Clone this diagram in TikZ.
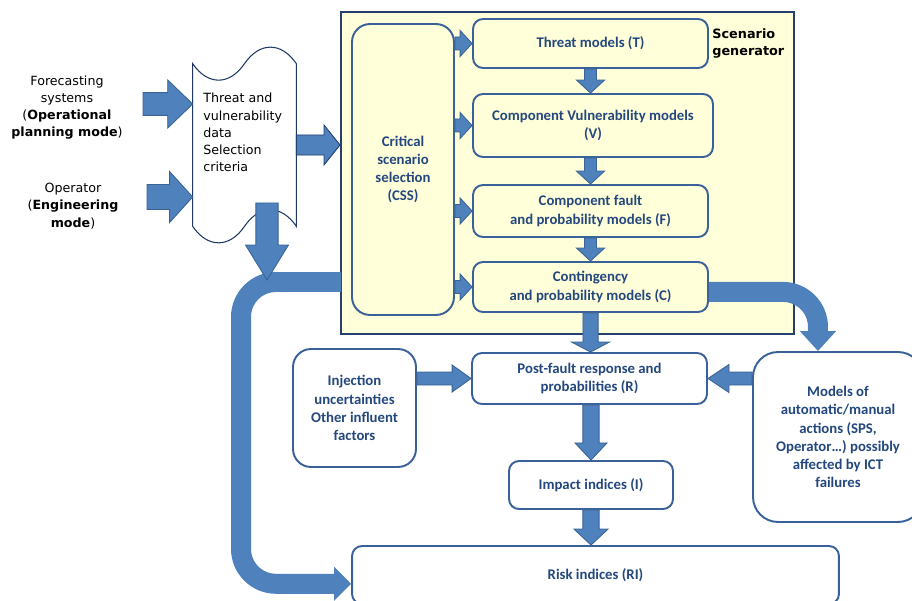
\documentclass[tikz,border=0pt]{standalone}
\usepackage{fontspec}
\setmainfont{DejaVu Sans}
\newfontfamily\boxfont{Carlito}
\usetikzlibrary{arrows.meta,calc}
\definecolor{genfill}{HTML}{FFFFD9}
\definecolor{genedge}{HTML}{24406E}
\definecolor{boxedge}{HTML}{3A6199}
\definecolor{boxtext}{HTML}{24487E}
\definecolor{arrfill}{HTML}{4F81BD}
\definecolor{arredge}{HTML}{3B6494}
\definecolor{tapeedge}{HTML}{1F3864}

\tikzset{
  modelbox/.style={draw=boxedge, line width=1.1pt, fill=genfill, rounded corners=0.2cm, inner sep=0pt,
    align=center, text=boxtext, font=\boxfont\bfseries\fontsize{8.4}{10.3}\selectfont},
  sidebox/.style={modelbox, fill=white},
  genbox/.style={draw=genedge, line width=1.2pt, fill=genfill, inner sep=0pt},
  tape/.style={draw=tapeedge, line width=0.6pt, fill=white},
  intext/.style={align=center, inner sep=0pt, font=\fontsize{7.2}{9.8}\selectfont},
  fatarr/.style={fill=arrfill, draw=arredge, line width=0.5pt},
  bigflow/.style={draw=arrfill, line width=0.4cm, rounded corners=0.7cm},
}

% block arrow: [style] from, to, shaft half width, head half width, head length
\newcommand\fatarrow[6][]{%
  \path[fatarr,#1] let \p1=(#2), \p2=(#3),
    \n1={atan2(\y2-\y1,\x2-\x1)}, \n2={veclen(\x2-\x1,\y2-\y1)-#6} in
    ($(\p1)+(\n1+90:#4)$) -- ($(\p1)+(\n1:\n2)+(\n1+90:#4)$)
    -- ($(\p1)+(\n1:\n2)+(\n1+90:#5)$) -- (\p2)
    -- ($(\p1)+(\n1:\n2)+(\n1-90:#5)$) -- ($(\p1)+(\n1:\n2)+(\n1-90:#4)$)
    -- ($(\p1)+(\n1-90:#4)$) -- cycle;}

\begin{document}
\begin{tikzpicture}[x=0.02cm,y=-0.02cm]
  \useasboundingbox (0,0) rectangle (912,601);

  % Scenario generator
  \node[genbox, minimum width=9.06cm, minimum height=6.44cm] (gen) at (567.5,173) {};
  \node[intext, font=\bfseries\fontsize{7.3}{9.7}\selectfont, align=left, anchor=west] (gentitle) at (712,43.5) {Scenario\\generator};
  \node[modelbox, minimum width=2.04cm, minimum height=5.82cm, rounded corners=0.36cm] (css) at (403,169.5) {Critical\\scenario\\selection\\(CSS)};
  \node[modelbox, minimum width=4.7cm, minimum height=0.98cm] (tbox) at (590.5,43.5) {Threat models (T)};
  \node[modelbox, minimum width=4.8cm, minimum height=1.26cm] (vbox) at (593,125.5) {Component Vulnerability models\\(V)};
  \node[modelbox, minimum width=4.7cm, minimum height=1.04cm] (fbox) at (590.5,211) {Component fault\\and probability models (F)};
  \node[modelbox, minimum width=4.7cm, minimum height=1.0cm] (cbox) at (590.5,287) {Contingency\\and probability models (C)};

  % Outside boxes
  \node[sidebox, minimum width=4.7cm, minimum height=1.02cm] (rbox) at (589.5,378.5) {Post-fault response and\\probabilities (R)};
  \node[sidebox, minimum width=3.28cm, minimum height=0.96cm] (ibox) at (591,485) {Impact indices (I)};
  \node[sidebox, minimum width=9.74cm, minimum height=1.16cm] (risk) at (595.5,575) {Risk indices (RI)};
  \node[sidebox, minimum width=2.46cm, minimum height=2.36cm, rounded corners=0.36cm] (inj) at (354.5,408) {Injection\\uncertainties\\Other influent\\factors};
  \node[sidebox, minimum width=3.4cm, minimum height=3.4cm, rounded corners=0.5cm] (acts) at (838,437) {Models of\\automatic/manual\\actions (SPS,\\Operator…) possibly\\affected by ICT\\failures};

  % Inputs
  \node[intext] (fore) at (67,107.5) {Forecasting\\systems\\(\textbf{Operational}\\\textbf{planning mode})};
  \node[intext] (oper) at (73,206) {Operator\\(\textbf{Engineering}\\\textbf{mode})};
  \node[minimum width=2.06cm, minimum height=3.24cm, inner sep=0pt] (data) at (244.5,145) {};
  \draw[tape] (data.north west) .. controls +(15,22) and +(-15,22) .. (data.north)
    .. controls +(15,-22) and +(-15,-22) .. (data.north east) -- (data.south east)
    .. controls +(-15,-22) and +(15,-22) .. (data.south)
    .. controls +(-15,22) and +(15,22) .. (data.south west) -- cycle;
  \node[intext, align=left, anchor=north west] (datatxt) at (203,93) {Threat and\\vulnerability\\data\\Selection\\criteria};

  % Feedback loop
  \coordinate (loopstart) at (341,282);
  \coordinate (loopend) at ([yshift=-5pt]risk.west);
  \draw[bigflow, -{Triangle[length=9.7pt,width=18.8pt]}] (loopstart) -- (241,282) |- (loopend);
  \coordinate (cstart) at ([yshift=-2.8pt]cbox.east);
  \coordinate (actstop) at ([xshift=-11.4pt]acts.north);
  \draw[bigflow, -{Triangle[length=11.4pt,width=20pt]}] (cstart) -| (actstop);

  % Block arrows
  \coordinate (in1) at (143,104);
  \coordinate (in2) at (147,197);
  \fatarrow{in1}{in1 -| data.west}{6.5pt}{13.7pt}{14.2pt}
  \fatarrow{in2}{in2 -| data.west}{7.1pt}{14.5pt}{13.1pt}
  \fatarrow[draw=genedge]{data.east}{data.east -| gen.west}{5.7pt}{11.4pt}{9.1pt}
  \coordinate (dropstart) at (267,203);
  \coordinate (dropend) at (267,280);
  \fatarrow{dropstart}{dropend}{6.3pt}{12.2pt}{19.9pt}
  \foreach \m in {tbox,vbox,fbox,cbox}
    \fatarrow{css.east |- \m.west}{\m.west}{3.7pt}{7.4pt}{6.8pt};
  \fatarrow{tbox.south}{tbox.south |- vbox.north}{3.4pt}{8pt}{7.4pt}
  \fatarrow{vbox.south -| fbox.north}{fbox.north}{3.4pt}{8pt}{7.4pt}
  \fatarrow{fbox.south}{cbox.north}{3.4pt}{8pt}{7.4pt}
  \fatarrow{cbox.south}{rbox.north -| cbox.south}{4.3pt}{10.8pt}{5.7pt}
  \fatarrow{rbox.south -| ibox.north}{ibox.north}{4.6pt}{9.1pt}{9.7pt}
  \fatarrow{ibox.south}{ibox.south |- risk.north}{4.6pt}{9.7pt}{9.1pt}
  \fatarrow{inj.east |- rbox.west}{rbox.west}{3.7pt}{7.7pt}{10.8pt}
  \fatarrow{acts.west |- rbox.east}{rbox.east}{3.7pt}{8pt}{12pt}
\end{tikzpicture}
\end{document}
